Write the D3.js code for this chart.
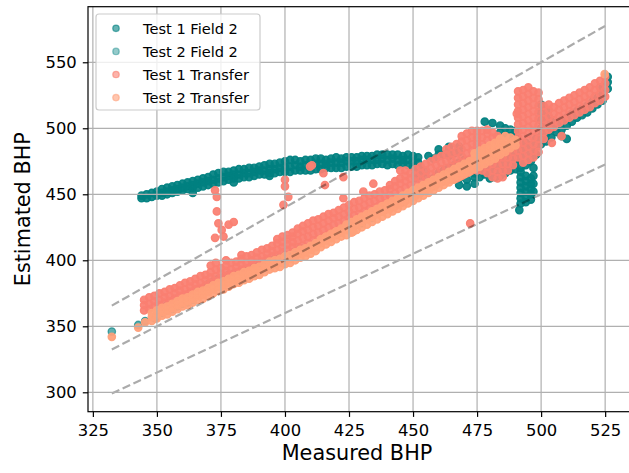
<!DOCTYPE html>
<html>
<head>
<meta charset="utf-8">
<script src="https://cdn.jsdelivr.net/npm/d3@7"></script>
<style>
  body { margin: 0; background: #fff; }
  svg { display: block; font-family: "DejaVu Sans", sans-serif; }
  .grid line { stroke: #b0b0b0; stroke-width: 1.2; }
  .axis text { font-family: "DejaVu Sans", sans-serif; font-size: 16.4px; fill: #000; }
  .axis line { stroke: #000; stroke-width: 1.2; }
</style>
</head>
<body>
<script>
// rows: [measured, estimated, estimated, ...]
var t1Field2 = [
  [344,447,449],[346,447,450],[348,448,451],[350,449,452],[352,449,451,454],[354,450,452,455],
  [356,451,453,456],[358,452,454,457],[360,453,455,458],[362,454,456,459],[364,451,455,457,460],
  [366,455,458,461],[368,456,459,462],[370,457,460,463],[372,458,461,465],[374,459,462,466],
  [376,460,463,467],[378,461,464,467],[380,459,462,465,468],[382,462,465,469],[384,463,466,469],
  [386,463,466,470],[388,464,467,470],[390,465,468,471],[392,465,468,472],[394,464,466,469,473],
  [396,466,469,473],[398,467,470,474],[400,467,471,475],[402,467,471,476],[404,468,472,476],
  [406,468,471,475],[408,468,472,476],[410,468,472,476],[412,469,473,477],[414,469,473,477],
  [416,470,473,476],[418,470,474,477],[420,470,474,478],[422,470,474,477],[424,471,475,478],
  [426,471,475,478],[428,471,475,478],[430,472,476,479],[432,472,476,479],[434,472,476,479],
  [436,473,476,480],[438,473,477,480],[440,472,476,480],[442,473,477,480],[444,472,476,480],
  [446,473,476,479],[448,472,476,480],[450,471,475,479],[452,470,474,478],[456,479],[458,477],
  [460,480,484],[462,480],[464,479,483,486],[466,481],[468,482,486],
  [458,462],[460,463,466],[462,465,468],[464,466,470],[466,467,472],[468,457,462,469,474],
  [470,470,476],[471,456,461],[474,458,463,466],[476,463,468],[478,465,469,505],
  [480,462,466,470],[481,504],[482,463,468,472],[484,464,469,474,497,502],
  [486,466,471,476,495,500],[488,468,473,478,483,494,499],[490,469,474,479,484,493,498],
  [492,443,447,451,455,459,463,467,470,476,481,486],[491.5,438],
  [494,444,448,452,456,460,464,472,478,484,489],[496,446,450,454,458,462,475,481,487],
  [497,452,458,464,470],[498,480,486,492],[500,488,494,500,506,512,518],
  [502,490,496,502,508,514],[504,493,499,505],[506,497,503],
  [508,494,499,506],[510,492,502,508],[512,505,511],[514,508,513],[516,510,515],[518,512,517],
  [520,515,520],[522,518,523],[524,521,526,531],[526,530,535,539]
];

var t2Field2 = [
  [332.4,346],[342.7,351],[345.4,354],[349.3,356],
  [352,360,364],[354,362,366],[356,363,367],[358,365,369],[360,367,371],[362,368,372],
  [364,370,374],[366,373,377],[368,375,379],[370,378,382],[372,380,384],[374,383,386],
  [376,384,387],[378,385,389],[380,386,390],[382,387,391],[384,388,392],[386,390,394],
  [388,391,395],[390,393,397],[392,395,398],[394,396,400],[396,397,401],[398,399,402],
  [400,401,404],[403,403,406],[406,406,409],[411,412],[414,414],[418,417],[422,421],
  [426.6,422],[430,428],[434,432],[438,437],[442,441],[446,444],[451,462,466],[453,464,468],
  [455,463,467],[458,456],[462,460],[466,463],[470,467],[474,471],[478,475],[482,479]
];

var t1Transfer = [
  [345,362,366,370],[347,363,367,372],[349,365,369,373],[351,366,370,375],[353,368,372,376],
  [355,369,373,378],[357,371,375,379],[359,373,377,381],[361,374,378,383],[363,376,380,384],
  [365,378,382,386],[367,379,383,388],[369,381,385,389],[371,383,387,391,396],
  [373,384,388,393,398],[375,386,390,394],[377,388,392,396,400],[379,389,393,398],
  [381,391,395,399],[383,393,397,401,404],[385,394,398,403],[387,396,400,404],
  [389,398,402,406],[391,399,403,408],[393,401,405,409],[395,403,407,411],
  [397,404,408,413,416],[399,406,410,414,418],[401,408,412,416,419],[403,410,414,418,421],
  [405,410,415,420,424],[407,411,417,422,426],[409,413,418,423,428],[411,415,420,425,430],
  [413,416,421,426,431],[415,418,423,428,433],[417,420,425,430,435],[419,422,427,432,436],
  [421,423,428,433,438],[423,425,430,435,440],[425,427,432,437,442],[427,429,434,439,444],
  [429,430,435,440,445],[431,432,437,442,447],[433,434,439,444,449],[435,435,440,445,450],
  [437,437,442,447,452],[439,438,443,448,453],[441,439,444,449,454,457],
  [443,441,446,451,456,460],[445,443,448,453,458,462,468],[447,445,450,455,460,464,468],
  [449,447,452,457,462,466],[451,449,454,459,464,469],[453,451,456,461,466,471],
  [455,453,458,463,468,473],[457,455,460,465,470,475],[459,457,462,467,472,477],
  [461,459,464,469,474,479],[463,460,465,470,475,480,484],[465,461,466,471,476,481,486],
  [467,462,467,472,477,482,488],[469,464,469,474,479,484,490,494],
  [471,466,471,476,481,486,491,496],[473,468,473,478,483,488,493,498],
  [475,468,473,478,483,488,493,498],[477,468,473,478,483,488,493,498],
  [479,466,471,476,481,486,491,496,499],[481,463,468,473,478,483,488,493,497],
  [483,462,467,472,477,482,487,492,494],[485,463,468,473,478,483,488],
  [487,468,473,478,483,487],[489,472,477,482,487,490],
  [491,478,483,488,493,498,503,508,513,518,523,528],
  [493,474,479,484,489,494,499,504,509,514,519,524,529],
  [495,476,481,486,491,496,501,506,511,516,521,526,531],
  [497,478,483,488,493,498,503,508,513,518,523,528],
  [499,482,487,492,497,502,507,512,517,522,527],[501,492,497,502,507,512,517],
  [503,499,504,509,514,518],[505,501,506,511,516],[507,504,509,514,519],[509,506,511,516,521],
  [511,508,513,518,523],[513,510,515,520,525],[515,512,517,522,527],[517,514,519,524,529],
  [519,516,521,526,531],[521,519,524,529,534],[523,521,526,531,536],[525,524,529,534,539],
  [372.7,453,417],[373.4,448,437],[374,428],[375.3,423],[376,418],[378,427],[380,429],
  [399.4,442],[400,456,461],[401.3,448],
  [409.8,471],[410.5,472],[415,466],[415.6,457],[422.8,463,447],[430.6,452],[434.5,458],
  [472.3,428],[490.5,511],[504.2,489],[508,494]
];

var t2Transfer = [
  [332.4,342],[342.7,349],[345.4,353],
  [348,354,357,360],[350,356,359,362],[352,358,361,364],[354,359,362,365],[356,361,364,367],
  [358,363,366,369],[360,365,368,371],[362,366,369,372],[364,368,371,374],[366,370,373,376],
  [368,371,374,377],[370,373,376,379],[372,375,378,381],[374,377,380,383],[376,378,381,384],
  [378,380,383,386],[380,382,385,388],[382,383,386,389],[384,385,388,391],[386,386,389,392],
  [388,388,391,394],[390,389,392,395],[392,391,394,397],[394,393,396,399],[396,394,397,400],
  [398,395,398,401],[400,397,400,403],[402,398,401,404],[404,400,403,406],[406,402,405,408],
  [408,403,406,409],[410,405,408,411],[412,407,410,413],[414,410,413,416],[416,412,415,418],
  [418,414,417,420],[420,416,419,422],[422,418,421,424],[424,419,423,427],
  [426,421,425,429],[428,423,427,431],[430,425,429,433],[432,427,431,435],
  [434,429,433,437],[436,431,435,439],[438,433,437,441],[440,435,439,443],
  [442,437,441,445],[444,439,443,447],[446,441,445,449],[448,443,447,451],
  [450,445,449,453],[452,447,451,455],[454,449,453,457],[456,451,455,459],
  [458,453,457,461],[460,455,459,463],[462,457,461,465],[464,459,463,467],
  [466,461,465,469],[468,463,467,471],[470,465,469,473],[472,467,471,475],
  [474,469,473,477,481],[476,471,475,479,483],[478,473,477,481,485],[480,475,479,483,487],
  [482,477,481,485,489],[484,480,484,488,492],[486,482,486,490,494],[488,485,489,493],
  [490,487,491],
  [412.4,411.6],[426.6,421.7],[524.8,541]
];

var series = [
  { name: "Test 1 Field 2",  rows: t1Field2,   color: "#008080", alpha: 0.92, key: 0.6 },
  { name: "Test 2 Field 2",  rows: t2Field2,   color: "#008080", alpha: 0.62, key: 0.42 },
  { name: "Test 1 Transfer", rows: t1Transfer, color: "#fa8072", alpha: 0.94, key: 0.6 },
  { name: "Test 2 Transfer", rows: t2Transfer, color: "#ffa07a", alpha: 0.94, key: 0.6 }
];

var xTicks = [325, 350, 375, 400, 425, 450, 475, 500, 525];
var yTicks = [300, 350, 400, 450, 500, 550];
var refFactors = [1.1, 1, 0.9];
var refRange = [332.4, 525];

var width = 629,
    height = 473;

var plotL = 88, plotR = 630, plotT = 6.7, plotB = 411.7;

var x = d3.scaleLinear().domain([323.1, 534.7]).range([plotL, plotR]);
var y = d3.scaleLinear().domain([285.3, 592.1]).range([plotB, plotT]);

var svg = d3.select("body").append("svg")
    .attr("width", width)
    .attr("height", height);

svg.append("defs").append("clipPath")
    .attr("id", "plot")
  .append("rect")
    .attr("x", plotL).attr("y", plotT)
    .attr("width", plotR - plotL).attr("height", plotB - plotT);

var plot = svg.append("g").attr("clip-path", "url(#plot)");

function toPoints(rows) {
  var pts = [];
  rows.forEach(function(r) {
    for (var i = 1; i < r.length; i++) pts.push([r[0], r[i]]);
  });
  return pts;
}

series.forEach(function(s) {
  plot.append("g")
    .selectAll("circle")
      .data(toPoints(s.rows))
    .enter().append("circle")
      .attr("cx", function(d) { return x(d[0]); })
      .attr("cy", function(d) { return y(d[1]); })
      .attr("r", 3.7)
      .style("fill", s.color)
      .style("fill-opacity", s.alpha)
      .style("stroke", s.color)
      .style("stroke-opacity", s.alpha)
      .style("stroke-width", 1.3);
});

// grid sits above the scatter, like matplotlib's default
var grid = svg.append("g").attr("class", "grid");
grid.selectAll(".vx")
    .data(xTicks)
  .enter().append("line")
    .attr("x1", function(d) { return x(d); })
    .attr("x2", function(d) { return x(d); })
    .attr("y1", plotT).attr("y2", plotB);
grid.selectAll(".hy")
    .data(yTicks)
  .enter().append("line")
    .attr("x1", plotL).attr("x2", plotR)
    .attr("y1", function(d) { return y(d); })
    .attr("y2", function(d) { return y(d); });

plot.selectAll(".ref")
    .data(refFactors)
  .enter().append("line")
    .attr("x1", x(refRange[0]))
    .attr("x2", x(refRange[1]))
    .attr("y1", function(f) { return y(refRange[0] * f); })
    .attr("y2", function(f) { return y(refRange[1] * f); })
    .style("stroke", "#000")
    .style("stroke-opacity", 0.33)
    .style("stroke-width", 2.2)
    .style("stroke-dasharray", "8.3,3.6");

var xAxis = svg.append("g")
    .attr("class", "axis")
    .attr("transform", "translate(0," + plotB + ")")
    .call(d3.axisBottom(x).tickValues(xTicks).tickSize(5.2).tickPadding(7.5));
xAxis.select(".domain").remove();

var yAxis = svg.append("g")
    .attr("class", "axis")
    .attr("transform", "translate(" + plotL + ",0)")
    .call(d3.axisLeft(y).tickValues(yTicks).tickSize(5.2).tickPadding(6));
yAxis.select(".domain").remove();

svg.append("rect")
    .attr("x", plotL).attr("y", plotT)
    .attr("width", plotR - plotL).attr("height", plotB - plotT)
    .style("fill", "none")
    .style("stroke", "#000")
    .style("stroke-width", 1.2);

svg.append("text")
    .attr("x", (plotL + plotR) / 2 - 2)
    .attr("y", 460)
    .attr("text-anchor", "middle")
    .style("font-size", "20.8px")
    .text("Measured BHP");

svg.append("text")
    .attr("transform", "translate(30," + ((plotT + plotB) / 2) + ") rotate(-90)")
    .attr("text-anchor", "middle")
    .style("font-size", "20.8px")
    .text("Estimated BHP");

var legend = svg.append("g");
legend.append("rect")
    .attr("x", 96).attr("y", 14)
    .attr("width", 164).attr("height", 96)
    .attr("rx", 3)
    .style("fill", "#fff")
    .style("fill-opacity", 0.8)
    .style("stroke", "#ccc")
    .style("stroke-width", 1.2);

var item = legend.selectAll(".item")
    .data(series)
  .enter().append("g")
    .attr("transform", function(d, i) {
      return "translate(116," + (28.3 + 23.1 * i) + ")";
    });

item.append("circle")
    .attr("r", 3.2)
    .style("fill", function(d) { return d.color; })
    .style("fill-opacity", function(d) { return d.key; })
    .style("stroke", function(d) { return d.color; })
    .style("stroke-opacity", function(d) { return d.key; })
    .style("stroke-width", 1.3);

item.append("text")
    .attr("x", 27)
    .attr("y", 5.3)
    .style("font-size", "14.6px")
    .text(function(d) { return d.name; });
</script>
</body>
</html>
